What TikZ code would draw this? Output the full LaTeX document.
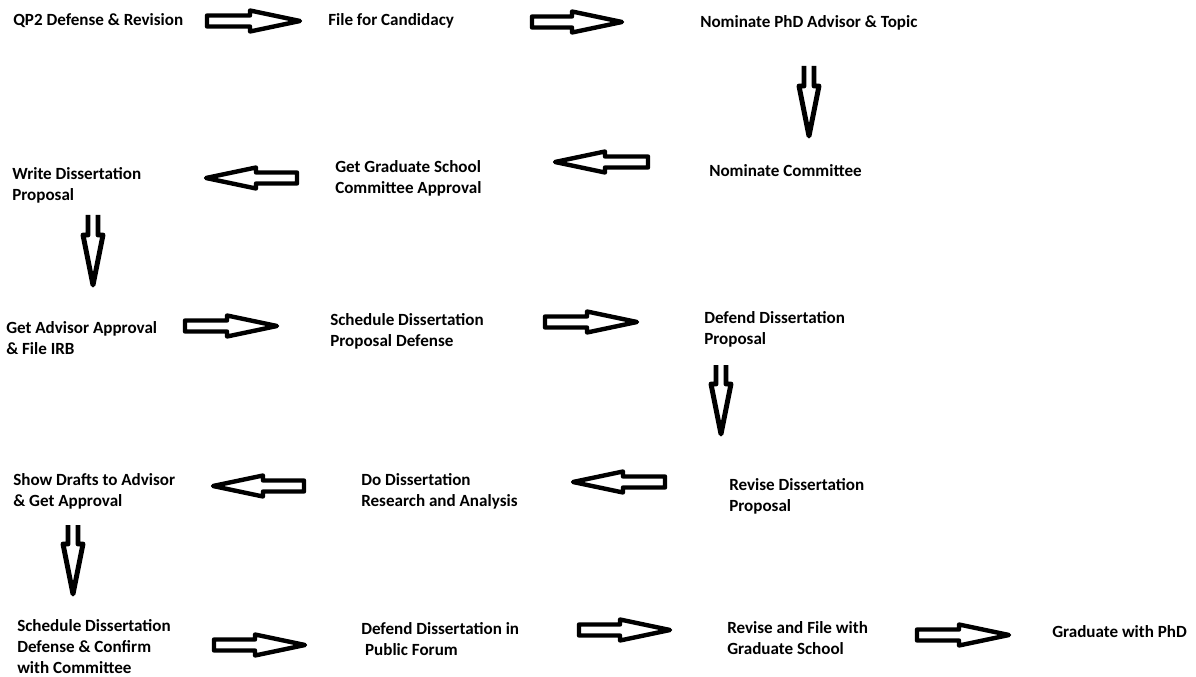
\documentclass[tikz,border=0pt]{standalone}
\usepackage{fontspec}
\setmainfont{Carlito}
\begin{document}
\begin{tikzpicture}[x=0.75pt,y=0.75pt,
  lbl/.style={anchor=west,inner sep=0pt,align=left,font=\bfseries\fontsize{12.8}{15.75}\selectfont},
  arr/.style={draw=black,fill=white,line width=3.3pt,line join=round},
  darr/.style={draw=black,fill=white,line width=3.7pt,line join=round}]
\useasboundingbox[fill=white] (0,0) rectangle (1196,-677);
\newcommand\blockarr[5]{% name, x, y, rotation, length
  \draw[arr,shift={(#2,-#3)},rotate=#4] (0,-5.5) -- ({#5-50},-5.5) -- ({#5-50},-10.5) -- (#5,0) -- ({#5-50},10.5) -- ({#5-50},5.5) -- (0,5.5) -- cycle;
  \coordinate (#1) at (#2,-#3);}
\newcommand\downarr[4]{% name, x, y, length
  \draw[darr,shift={(#2,-#3)}] (-5,0) -- (-5,{-(#4-50)}) -- (-10,{-(#4-50)}) -- (0,-#4) -- (10,{-(#4-50)}) -- (5,{-(#4-50)}) -- (5,0);
  \coordinate (#1) at (#2,-#3);}
% texts
\node[lbl] (t1) at (13,-21) {QP2 Defense \& Revision};
\node[lbl] (t2) at (328,-21) {File for Candidacy};
\node[lbl] (t3) at (700,-23) {Nominate PhD Advisor \& Topic};
\node[lbl] (t4) at (709,-171) {Nominate Committee};
\node[lbl] (t5) at (335,-178) {Get Graduate School\\Committee Approval};
\node[lbl] (t6) at (12,-185) {Write Dissertation\\Proposal};
\node[lbl] (t7) at (6,-338) {Get Advisor Approval\\\& File IRB};
\node[lbl] (t8) at (330,-331) {Schedule Dissertation\\Proposal Defense};
\node[lbl] (t9) at (704,-329) {Defend Dissertation\\Proposal};
\node[lbl] (t10) at (729,-496) {Revise Dissertation\\Proposal};
\node[lbl] (t11) at (361,-491) {Do Dissertation\\Research and Analysis};
\node[lbl] (t12) at (13,-491) {Show Drafts to Advisor\\\& Get Approval};
\node[lbl] (t13) at (17,-647) {Schedule Dissertation\\Defense \& Confirm\\with Committee};
\node[lbl] (t14) at (361,-639) {Defend Dissertation in\\\ Public Forum};
\node[lbl] (t15) at (727,-638) {Revise and File with\\Graduate School};
\node[lbl] (t16) at (1052,-632) {Graduate with PhD};
% arrows
\blockarr{a1}{207}{21}{0}{93}
\blockarr{a2}{532}{22}{0}{90}
\downarr{a3}{809}{66}{70}
\blockarr{a4}{648}{162}{180}{93}
\blockarr{a5}{297}{178}{180}{91}
\downarr{a6}{93}{215}{70}
\blockarr{a7}{185}{326}{0}{92}
\blockarr{a8}{545}{322}{0}{92}
\downarr{a9}{721}{365}{69}
\blockarr{a10}{665}{482}{180}{92}
\blockarr{a11}{304}{486}{180}{91}
\downarr{a12}{73}{525}{69}
\blockarr{a13}{214}{645}{0}{91}
\blockarr{a14}{579}{630}{0}{91}
\blockarr{a15}{917}{635}{0}{92}
\end{tikzpicture}
\end{document}
